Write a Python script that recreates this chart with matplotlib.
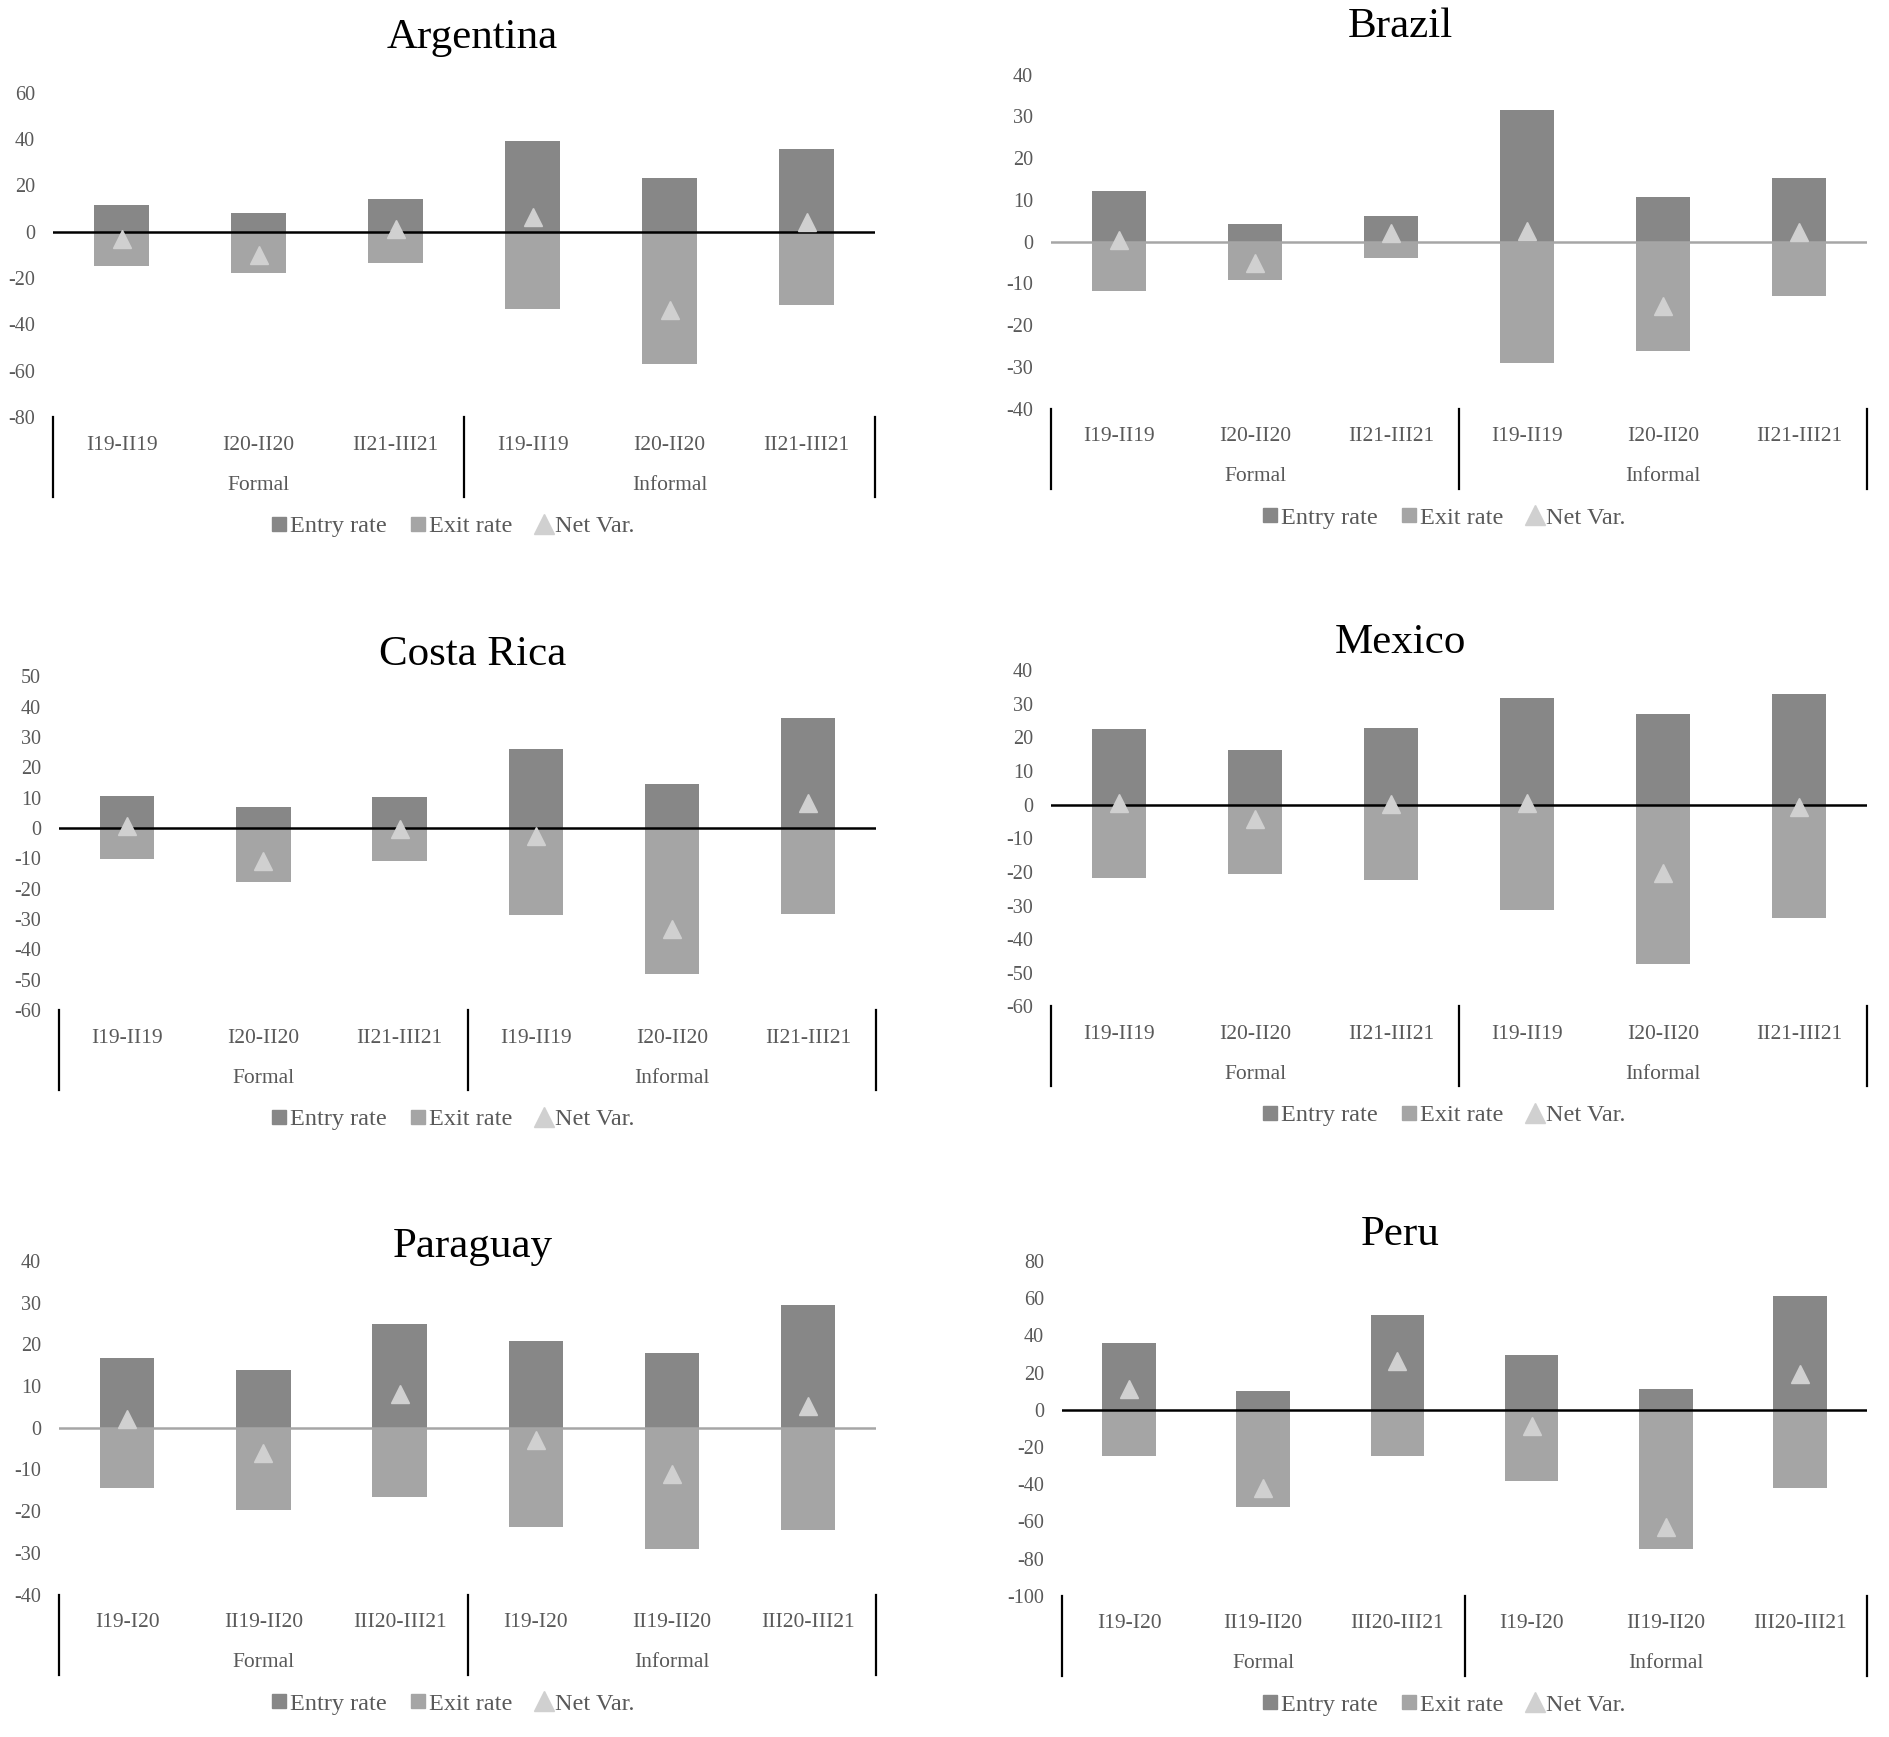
import numpy as np
import matplotlib.pyplot as plt
from matplotlib.lines import Line2D

plt.rcParams['font.family'] = ['Liberation Serif', 'DejaVu Serif']
plt.rcParams['axes.unicode_minus'] = False

# tamanho final 1890 x 1737 px; coordenadas medidas na imagem reduzida (1568 px)
W, H = 1890, 1737
S = W / 1568

periodos_a = ['I19-II19', 'I20-II20', 'II21-III21']
periodos_b = ['I19-I20', 'II19-II20', 'III20-III21']
grupos = ['Formal', 'Informal']

# Argentina
arg_entrada = [11.7, 8.2, 14.3, 39.2, 23.2, 35.7]
arg_saida = [-14.8, -18.0, -13.4, -33.4, -57.0, -31.8]
arg_liquida = [-3.2, -10.0, 1.4, 6.5, -33.7, 4.2]

# Brazil
bra_entrada = [12.2, 4.3, 6.2, 31.6, 10.7, 15.2]
bra_saida = [-11.8, -9.2, -4.0, -29.1, -26.2, -13.0]
bra_liquida = [0.3, -5.1, 2.0, 2.6, -15.4, 2.2]

# Costa Rica
cri_entrada = [10.4, 7.0, 10.1, 26.1, 14.5, 36.3]
cri_saida = [-10.1, -17.9, -10.8, -28.8, -48.2, -28.5]
cri_liquida = [0.5, -11.0, -0.3, -2.7, -33.4, 8.2]

# Mexico
mex_entrada = [22.5, 16.2, 22.7, 31.8, 26.9, 32.9]
mex_saida = [-21.8, -20.6, -22.4, -31.4, -47.3, -33.7]
mex_liquida = [0.4, -4.4, 0.3, 0.4, -20.3, -0.8]

# Paraguay
pry_entrada = [16.6, 13.8, 24.9, 20.9, 17.8, 29.5]
pry_saida = [-14.5, -19.7, -16.7, -23.8, -29.0, -24.4]
pry_liquida = [2.2, -6.0, 8.0, -2.9, -11.2, 5.2]

# Peru
per_entrada = [35.7, 10.3, 51.0, 29.5, 11.4, 61.2]
per_saida = [-24.8, -52.5, -25.0, -38.4, -74.8, -42.2]
per_liquida = [11.2, -42.2, 26.4, -8.9, -63.0, 19.0]

cor_entrada = '#878787'
cor_saida = '#a5a5a5'
cor_liquida = '#d0d0d0'
cor_texto = '#595959'

fig = plt.figure(figsize=(W / 100, H / 100), dpi=100)


def painel(titulo, periodos, entrada, saida, liquida, yticks, cor_zero,
           x0, x1, ytop, ybot, ytitulo, xcentro, xlegenda):
    # ytop/ybot: posição dos ticks extremos (px da imagem reduzida)
    l = x0 * S / W
    r = x1 * S / W
    t = 1 - ytop * S / H
    b = 1 - ybot * S / H
    ax = fig.add_axes([l, b, r - l, t - b])
    x = np.arange(6)
    ax.bar(x, entrada, width=0.4, color=cor_entrada, zorder=2)
    ax.bar(x, saida, width=0.4, color=cor_saida, zorder=2)
    ax.axhline(0, color=cor_zero, lw=1.8, zorder=3)
    ax.plot(x, liquida, '^', color=cor_liquida, markersize=13, zorder=4)
    ax.set_xlim(-0.5, 5.5)
    ax.set_ylim(yticks[0], yticks[-1])
    ax.set_yticks(yticks)
    ax.tick_params(axis='y', length=0, pad=13, labelsize=14.5, labelcolor=cor_texto)
    ax.set_xticks([])
    for s in ax.spines.values():
        s.set_visible(False)

    altura_px = (t - b) * H
    for i, rot in enumerate(periodos + periodos):
        ax.annotate(rot, xy=(i, 0), xycoords=('data', 'axes fraction'),
                    xytext=(0, -28), textcoords='offset pixels',
                    ha='center', va='center', fontsize=15.5, color=cor_texto)
    for j, g in enumerate(grupos):
        ax.annotate(g, xy=(1 + 3 * j, 0), xycoords=('data', 'axes fraction'),
                    xytext=(0, -68), textcoords='offset pixels',
                    ha='center', va='center', fontsize=15.5, color=cor_texto)
    for xv in [-0.5, 2.5, 5.5]:
        ax.plot([xv, xv], [0, -80 / altura_px], transform=ax.get_xaxis_transform(),
                clip_on=False, color='black', lw=1.6)

    fig.text(xcentro * S / W, 1 - (ytitulo + 3) * S / H, titulo, ha='center',
             va='center', fontsize=31, color='black')

    handles = [
        Line2D([], [], marker='s', ls='', color=cor_entrada, markersize=10.5),
        Line2D([], [], marker='s', ls='', color=cor_saida, markersize=10.5),
        Line2D([], [], marker='^', ls='', color=cor_liquida, markersize=14),
    ]
    fig.legend(handles, ['Entry rate', 'Exit rate', 'Net Var.'], loc='center',
               bbox_to_anchor=(xlegenda * S / W, b - 109 / H),
               ncol=3, frameon=False, fontsize=17.5, handlelength=0.6,
               handletextpad=0.15, columnspacing=1.0, labelcolor=cor_texto)
    return ax


painel('Argentina', periodos_a, arg_entrada, arg_saida, arg_liquida,
       list(range(-80, 61, 20)), 'black', 44, 726, 77, 346, 28, 392, 376)
painel('Brazil', periodos_a, bra_entrada, bra_saida, bra_liquida,
       list(range(-40, 41, 10)), '#a6a6a6', 872, 1549, 62, 339, 19, 1162, 1198)
painel('Costa Rica', periodos_a, cri_entrada, cri_saida, cri_liquida,
       list(range(-60, 51, 10)), 'black', 49, 727, 561, 838, 540, 392, 376)
painel('Mexico', periodos_a, mex_entrada, mex_saida, mex_liquida,
       list(range(-60, 41, 10)), 'black', 872, 1549, 556, 835, 530, 1162, 1198)
painel('Paraguay', periodos_b, pry_entrada, pry_saida, pry_liquida,
       list(range(-40, 41, 10)), '#a6a6a6', 49, 727, 1046, 1323, 1031, 392, 376)
painel('Peru', periodos_b, per_entrada, per_saida, per_liquida,
       list(range(-100, 81, 20)), 'black', 881, 1549, 1046, 1324, 1021, 1162, 1198)

fig.savefig('out.png', dpi=100, facecolor='white')
